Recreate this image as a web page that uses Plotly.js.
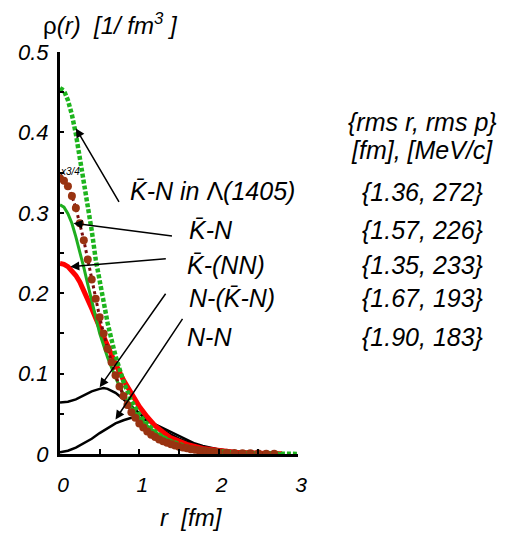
<!DOCTYPE html>
<html><head><meta charset="utf-8">
<script src="https://cdn.plot.ly/plotly-3.0.1.min.js"></script>
<style>html,body{margin:0;padding:0;background:#fff}</style>
</head><body><div id="chart" style="width:525px;height:540px"></div>
<script>
// ---- data ----
const rLambda   = [0,0.05,0.1,0.15,0.2,0.25,0.3,0.35,0.4,0.45,0.5,0.55,0.6,0.65,0.7,0.8,0.9,1.0,1.1,1.2,1.3,1.4,1.5,1.6,1.8,2.0,2.2,2.4,2.6,2.8,3.0];
const rhoLambda = [0.455,0.452,0.440,0.422,0.398,0.370,0.340,0.310,0.278,0.242,0.213,0.188,0.163,0.142,0.122,0.090,0.066,0.049,0.037,0.028,0.021,0.016,0.012,0.009,0.005,0.003,0.0018,0.001,0.0006,0.0003,0.0001];

const rScaled   = [0,0.05,0.1,0.15,0.2,0.25,0.3,0.35,0.4,0.45,0.5,0.55,0.6,0.65,0.7,0.75,0.8,0.85,0.9,0.95,1.0,1.05,1.1,1.15,1.2,1.25,1.3,1.35,1.4,1.45,1.5,1.55,1.6,1.65,1.7,1.75,1.8,1.85,1.9,1.95,2.0,2.1,2.2,2.3,2.4,2.5,2.6,2.7];
const rhoScaled = [0.343,0.340,0.333,0.321,0.306,0.287,0.266,0.242,0.217,0.193,0.170,0.150,0.131,0.114,0.098,0.084,0.072,0.061,0.052,0.045,0.038,0.033,0.028,0.024,0.021,0.018,0.016,0.014,0.012,0.0105,0.009,0.008,0.007,0.006,0.0053,0.0046,0.004,0.0035,0.003,0.0026,0.0023,0.0017,0.0013,0.001,0.0008,0.0006,0.0004,0.0003];

const rKN   = [0,0.05,0.1,0.15,0.2,0.25,0.3,0.35,0.4,0.45,0.5,0.6,0.7,0.8,0.9,1.0,1.1,1.2,1.3,1.4,1.5,1.6,1.8,2.0,2.2,2.5,2.8];
const rhoKN = [0.310,0.307,0.299,0.287,0.270,0.252,0.232,0.211,0.190,0.169,0.150,0.120,0.095,0.074,0.058,0.045,0.035,0.027,0.021,0.016,0.012,0.009,0.005,0.003,0.0018,0.0008,0.0003];

const rKNN   = [0,0.05,0.1,0.15,0.2,0.25,0.3,0.35,0.4,0.45,0.5,0.6,0.7,0.8,0.9,1.0,1.1,1.2,1.3,1.4,1.5,1.6,1.8,2.0,2.2,2.5,2.8];
const rhoKNN = [0.237,0.236,0.233,0.228,0.222,0.214,0.204,0.193,0.181,0.169,0.157,0.133,0.112,0.092,0.075,0.059,0.046,0.035,0.027,0.020,0.016,0.012,0.007,0.004,0.0023,0.001,0.0003];

const rNKN   = [0,0.1,0.2,0.3,0.4,0.5,0.55,0.6,0.7,0.8,0.9,1.0,1.1,1.2,1.3,1.4,1.5,1.6,1.7,1.8,1.9,2.0,2.2,2.4,2.6,2.8];
const rhoNKN = [0.064,0.065,0.068,0.073,0.078,0.081,0.082,0.081,0.076,0.068,0.059,0.050,0.042,0.035,0.029,0.024,0.019,0.015,0.012,0.009,0.007,0.0055,0.003,0.0015,0.0008,0.0004];

const rNN   = [0,0.1,0.2,0.3,0.4,0.5,0.6,0.7,0.8,0.9,1.0,1.1,1.2,1.3,1.4,1.5,1.6,1.7,1.8,1.9,2.0,2.2,2.4,2.6,2.8];
const rhoNN = [0.002,0.004,0.008,0.013,0.019,0.026,0.032,0.038,0.042,0.045,0.045,0.042,0.037,0.032,0.027,0.022,0.017,0.013,0.010,0.0075,0.0055,0.003,0.0015,0.0007,0.0003];

const labels  = ["K\u0304-N in <span style=\"font-style:normal\">\u039B</span>(1405)", "K\u0304-N", "K\u0304-(NN)", "N-(K\u0304-N)", "N-N"];
const rmsVals = ["{1.36, 272}", "{1.57, 226}", "{1.35, 233}", "{1.67, 193}", "{1.90, 183}"];

// ---- layout helpers (pixel -> paper) ----
const L = 60, T = 52, PW = 238, PH = 402;
const px = x => (x - L) / PW;
const py = y => (T + PH - y) / PH;
const FONT = "Liberation Sans, Arial, sans-serif";

const traces = [
  {x: rNN, y: rhoNN, mode: 'lines', line: {color: '#000', width: 2.5}},
  {x: rNKN, y: rhoNKN, mode: 'lines', line: {color: '#000', width: 2.5}},
  {x: rKNN, y: rhoKNN, mode: 'lines', line: {color: '#ff0000', width: 5}},
  {x: rKN, y: rhoKN, mode: 'lines', line: {color: '#1fae1f', width: 3}},
  {x: rLambda, y: rhoLambda, mode: 'lines', line: {color: '#1db41d', width: 4.5, dash: '4px,2px'}},
  {x: rScaled, y: rhoScaled, mode: 'lines+markers', line: {color: '#7a0c0c', width: 3, dash: 'dot'},
   marker: {color: '#993311', size: 8, symbol: 'circle'}}
];

const labelPos = [[128,191],[187,230],[185,265],[187,298],[185,337]];
const rmsY = [192,230,265,298,337];
const arrows = [
  // head (data), tail offset (px)
  {x: 0.20, y: 0.405, ax: 44, ay: 75},
  {x: 0.17, y: 0.287, ax: 100, ay: 13},
  {x: 0.13, y: 0.233, ax: 97, ay: -8},
  {x: 0.50, y: 0.083, ax: 67, ay: -95},
  {x: 0.70, y: 0.043, ax: 68, ay: -102}
];

const ann = [];
arrows.forEach(a => ann.push({x: a.x, y: a.y, xref: 'x', yref: 'y', ax: a.ax, ay: a.ay, axref: 'pixel', ayref: 'pixel',
  text: '', showarrow: true, arrowhead: 2, arrowsize: 1.2, arrowwidth: 1.5, arrowcolor: '#000'}));
labels.forEach((t, i) => ann.push({x: px(labelPos[i][0]), y: py(labelPos[i][1]), xref: 'paper', yref: 'paper',
  xanchor: 'left', yanchor: 'middle', text: t, showarrow: false,
  font: {family: FONT, size: 25, style: 'italic', color: '#000'}}));
ann.push({x: px(422), y: py(122), xref: 'paper', yref: 'paper', xanchor: 'center', yanchor: 'middle',
  text: '{rms r, rms p}', showarrow: false, font: {family: FONT, size: 25, style: 'italic', color: '#000'}});
ann.push({x: px(422), y: py(150), xref: 'paper', yref: 'paper', xanchor: 'center', yanchor: 'middle',
  text: '[fm], [MeV/c]', showarrow: false, font: {family: FONT, size: 25, style: 'italic', color: '#000'}});
rmsVals.forEach((t, i) => ann.push({x: px(422), y: py(rmsY[i]), xref: 'paper', yref: 'paper',
  xanchor: 'center', yanchor: 'middle', text: t, showarrow: false,
  font: {family: FONT, size: 25, style: 'italic', color: '#000'}}));
ann.push({x: px(70), y: py(171), xref: 'paper', yref: 'paper', xanchor: 'center', yanchor: 'middle',
  text: 'x3/4', showarrow: false, font: {family: FONT, size: 10, style: 'italic', color: '#000'}});
// y-axis title (horizontal, top-left)
ann.push({x: px(41), y: py(24), xref: 'paper', yref: 'paper', xanchor: 'left', yanchor: 'middle',
  text: '\u03C1<i>(r)\u00A0\u00A0[1/\u00A0fm<sup>3</sup>\u00A0]</i>', showarrow: false,
  font: {family: FONT, size: 24, color: '#000'}});
// x-axis title
ann.push({x: px(191), y: py(517), xref: 'paper', yref: 'paper', xanchor: 'center', yanchor: 'middle',
  text: 'r\u00A0\u00A0[fm]', showarrow: false, font: {family: FONT, size: 24, style: 'italic', color: '#000'}});

const layout = {
  width: 525, height: 540,
  margin: {l: L, t: T, r: 525 - L - PW, b: 540 - T - PH, pad: 0},
  paper_bgcolor: '#fff', plot_bgcolor: '#fff',
  showlegend: false,
  xaxis: {range: [0, 3], showgrid: false, zeroline: false, showline: true, linecolor: '#000', linewidth: 3,
    ticks: 'inside', ticklen: 5, tickwidth: 2, tickcolor: '#000', dtick: 1, tick0: 0,
    minor: {dtick: 0.5, ticks: 'inside', ticklen: 5, tickwidth: 2, tickcolor: '#000', showgrid: false},
    tickfont: {family: FONT, size: 21, style: 'italic', color: '#000'}, ticklabelstandoff: 10, ticklabelshift: 3},
  yaxis: {range: [0, 0.5], showgrid: false, zeroline: false, showline: true, linecolor: '#000', linewidth: 3,
    ticks: 'inside', ticklen: 4, tickwidth: 2, tickcolor: '#000', dtick: 0.1, tick0: 0,
    minor: {dtick: 0.05, ticks: 'inside', ticklen: 4, tickwidth: 2, tickcolor: '#000', showgrid: false},
    tickfont: {family: FONT, size: 22, style: 'italic', color: '#000'}, ticklabelstandoff: 4},
  annotations: ann
};

Plotly.newPlot('chart', traces, layout, {displayModeBar: false, staticPlot: true});
</script>
</body></html>
